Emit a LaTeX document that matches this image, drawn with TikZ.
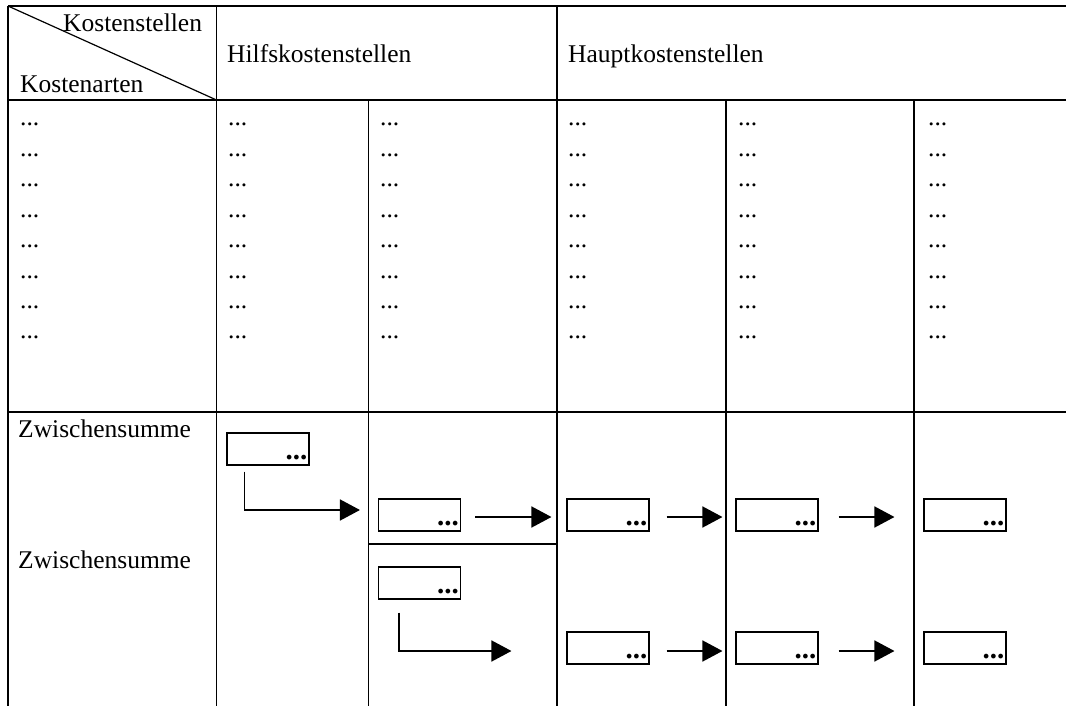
\documentclass[tikz,border=0pt]{standalone}
\usepackage{fontspec}
\setmainfont{Liberation Serif}
\usetikzlibrary{arrows.meta}
\begin{document}
\begin{tikzpicture}[x=1pt,y=-1pt,
  grid/.style={line width=1.2pt},
  txt/.style={anchor=base west, inner sep=0pt, font=\fontsize{25.5}{30}\selectfont},
  cell/.style={draw, line width=1.1pt, minimum width=82pt, minimum height=32pt, inner sep=0pt},
  bdots/.style={anchor=base east, inner sep=0pt, font=\fontsize{29}{30}\selectfont\bfseries},
  arr/.style={line width=1.6pt, -{Triangle[length=20pt,width=21pt]}}
]
\useasboundingbox (0,0) rectangle (1066,706);
% grid lines
\draw[grid] (8,6) -- (1066,6);
\draw[grid] (8,100) -- (1066,100);
\draw[grid] (8,412) -- (1066,412);
\draw[grid] (368.5,544) -- (557,544);
\draw[grid] (8,6) -- (8,706);
\draw[grid] (216.5,6) -- (216.5,706);
\draw[grid] (557,6) -- (557,706);
\draw[grid] (368.5,100) -- (368.5,706);
\draw[grid] (726,100) -- (726,706);
\draw[grid] (914,100) -- (914,706);
\draw[grid] (8,6) -- (216.5,100);
% header texts
\node[txt] (ks) at (63,32) {Kostenstellen};
\node[txt] (ka) at (20,93) {Kostenarten};
\node[txt] (hilf) at (227,63) {Hilfskostenstellen};
\node[txt] (haupt) at (568,63) {Hauptkostenstellen};
% dot rows
\foreach \r in {0,...,7}{
  \foreach \c [count=\i] in {20,228,380,568,738,928}{
    \node[txt] (d\r-\i) at (\c,{126+30.4*\r}) {...};
  }
}
\node[txt] (zs1) at (18,437) {Zwischensumme};
\node[txt] (zs2) at (18,568) {Zwischensumme};
% boxes
\node[cell] (b1) at (268,449) {};
\node[cell] (b2) at (419.5,515) {};
\node[cell] (b3) at (608,515) {};
\node[cell] (b4) at (777,515) {};
\node[cell] (b5) at (965,515) {};
\node[cell] (b6) at (419.5,583) {};
\node[cell] (b7) at (608,648) {};
\node[cell] (b8) at (777,648) {};
\node[cell] (b9) at (965,648) {};
\foreach \b in {b1,b2,b3,b4,b5,b6,b7,b8,b9}{
  \node[bdots] (\b dots) at ([xshift=-2pt,yshift=6.3pt]\b.south east) {...};
}
% arrows
\draw[arr] ([xshift=18pt,yshift=-6pt]b1.south west) |- ([xshift=-18pt,yshift=5pt]b2.west);
\draw[arr] ([xshift=14pt,yshift=-2pt]b2.east) -- ([xshift=-15pt,yshift=-2pt]b3.west);
\draw[arr] ([xshift=17pt,yshift=-2pt]b3.east) -- ([xshift=-13pt,yshift=-2pt]b4.west);
\draw[arr] ([xshift=20pt,yshift=-2pt]b4.east) -- ([xshift=-29pt,yshift=-2pt]b5.west);
\draw[arr] ([xshift=21pt,yshift=-13pt]b6.south west) |- ([xshift=-55pt,yshift=-3pt]b7.west);
\draw[arr] ([xshift=17pt,yshift=-3pt]b7.east) -- ([xshift=-13pt,yshift=-3pt]b8.west);
\draw[arr] ([xshift=20pt,yshift=-3pt]b8.east) -- ([xshift=-29pt,yshift=-3pt]b9.west);
\end{tikzpicture}
\end{document}
